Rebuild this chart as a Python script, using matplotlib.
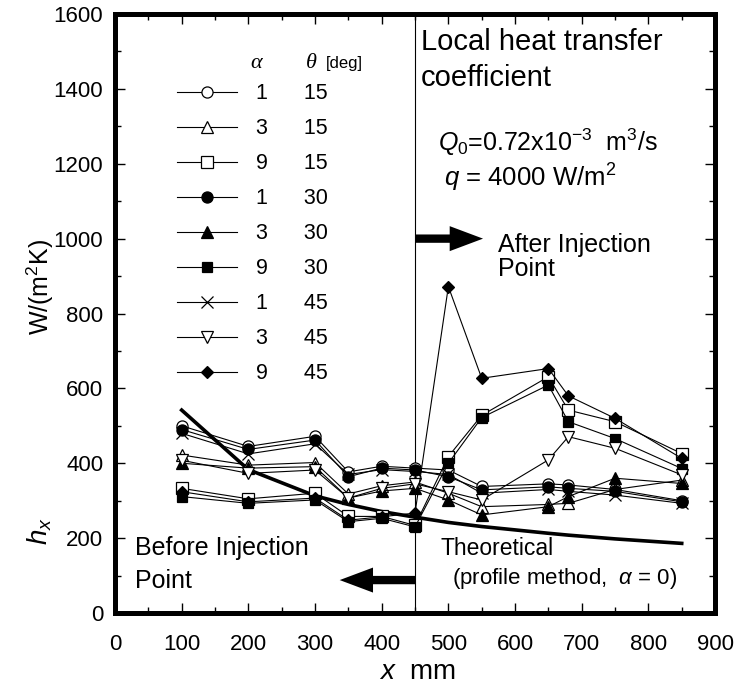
import matplotlib
matplotlib.use('Agg')
import matplotlib.pyplot as plt
from matplotlib.ticker import MultipleLocator

plt.rcParams['font.family'] = ['Liberation Sans', 'DejaVu Sans']
plt.rcParams['mathtext.fontset'] = 'custom'
plt.rcParams['mathtext.rm'] = 'Liberation Sans'
plt.rcParams['mathtext.it'] = 'Liberation Sans:italic'

# positions along the channel (mm)
x_pos = [100, 200, 300, 350, 400, 450, 500, 550, 650, 680, 750, 850]

# local heat transfer coefficient h_x, W/(m2K)
h_a1_t15 = [500, 445, 472, 377, 392, 387, 382, 338, 345, 342, 330, 300]
h_a3_t15 = [422, 395, 402, 318, 340, 350, 320, 284, 290, 293, 330, 355]
h_a9_t15 = [333, 305, 320, 258, 258, 234, 418, 528, 631, 542, 511, 426]
h_a1_t30 = [490, 437, 462, 364, 387, 382, 364, 329, 337, 333, 325, 297]
h_a3_t30 = [400, 387, 391, 307, 326, 333, 302, 262, 284, 311, 360, 346]
h_a9_t30 = [311, 293, 302, 244, 253, 230, 400, 522, 609, 511, 466, 386]
h_a1_t45 = [480, 425, 452, 370, 383, 378, 370, 320, 330, 325, 315, 293]
h_a3_t45 = [408, 373, 382, 307, 333, 345, 324, 302, 409, 471, 440, 369]
h_a9_t45 = [324, 297, 307, 248, 257, 267, 872, 627, 653, 580, 520, 413]

# theoretical curve (profile method, alpha = 0)
theo_x = [100, 200, 300, 350, 400, 450, 500, 550, 650, 680, 750, 850]
theo_h = [542, 383, 313, 290, 271, 256, 242, 231, 213, 208, 198, 186]

alphas = [1, 3, 9, 1, 3, 9, 1, 3, 9]
thetas = [15, 15, 15, 30, 30, 30, 45, 45, 45]

fig = plt.figure(figsize=(7.39, 6.97), dpi=100)
ax = fig.add_axes([0.1556, 0.1205, 0.812, 0.8594])

series = [h_a1_t15, h_a3_t15, h_a9_t15, h_a1_t30, h_a3_t30, h_a9_t30,
          h_a1_t45, h_a3_t45, h_a9_t45]
markers = ['o', '^', 's', 'o', '^', 's', 'x', 'v', 'D']
faces = ['white', 'white', 'white', 'black', 'black', 'black', 'none', 'white', 'black']
sizes = [8, 8, 8, 8, 8, 7.5, 8, 8, 6.5]

for h, m, fc, ms, a, t in zip(series, markers, faces, sizes, alphas, thetas):
    ax.plot(x_pos, h, color='black', lw=0.8, marker=m, ms=ms, mfc=fc,
            mec='black', mew=0.9, label=f'{a}      {t}')

ax.plot(theo_x, theo_h, color='black', lw=2.6, zorder=1)

ax.axvline(450, color='black', lw=0.8, zorder=0)

ax.set_xlim(0, 900)
ax.set_ylim(0, 1600)
ax.xaxis.set_major_locator(MultipleLocator(100))
ax.xaxis.set_minor_locator(MultipleLocator(50))
ax.yaxis.set_major_locator(MultipleLocator(200))
ax.yaxis.set_minor_locator(MultipleLocator(100))
ax.tick_params(which='both', direction='in', top=True, right=True,
               labelsize=16, width=1)
ax.tick_params(which='major', length=7)
ax.tick_params(which='minor', length=4.5)
ax.tick_params(axis='x', which='major', pad=15)
ax.tick_params(axis='y', which='major', pad=8.5)
for s in ax.spines.values():
    s.set_linewidth(3.6)

leg = ax.legend(loc='upper left', bbox_to_anchor=(0.103, 0.884), frameon=False,
                fontsize=15.5, handlelength=2.8, handletextpad=0.9,
                labelspacing=0.65, borderpad=0, borderaxespad=0)

ax.text(211, 1468, 'α', fontsize=16, family='Liberation Serif', style='italic',
        ha='center', va='center')
ax.text(294, 1468, 'θ', fontsize=16, family='Liberation Serif', style='italic',
        ha='center', va='center')
ax.text(316, 1468, '[deg]', fontsize=12, ha='left', va='center')

ax.text(459, 1526, 'Local heat transfer', fontsize=21, ha='left', va='center')
ax.text(459, 1428, 'coefficient', fontsize=21, ha='left', va='center')
ax.text(484, 1258, r'$Q_0$=0.72x10$^{-3}$  m$^3$/s', fontsize=18, ha='left', va='center')
ax.text(494, 1161, r'$q$ = 4000 W/m$^2$', fontsize=18.5, ha='left', va='center')

ax.text(574, 983, 'After Injection', fontsize=18, ha='left', va='center')
ax.text(574, 919, 'Point', fontsize=18, ha='left', va='center')
ax.text(30, 174, 'Before Injection', fontsize=18, ha='left', va='center')
ax.text(30, 85, 'Point', fontsize=18, ha='left', va='center')
ax.text(488, 173, 'Theoretical', fontsize=16.5, ha='left', va='center')
ax.text(506, 93, r'(profile method,  $\alpha$ = 0)', fontsize=16, ha='left', va='center')

arrow = dict(arrowstyle='simple,head_length=24,head_width=18,tail_width=6',
             mutation_scale=1, fc='black', ec='none', lw=0,
             shrinkA=0, shrinkB=0)
ax.annotate('', xy=(552, 1000), xytext=(450, 1000), arrowprops=arrow)
ax.annotate('', xy=(337, 88), xytext=(450, 88), arrowprops=arrow)

fig.text(0.054, 0.588, 'W/(m$^2$K)', rotation=90, fontsize=18,
         ha='center', va='center')
fig.text(0.054, 0.238, r'$h_x$', rotation=90, fontsize=20,
         ha='center', va='center')
fig.text(0.565, 0.036, r'$x$  mm', fontsize=20, ha='center', va='center')

fig.savefig('out.png', dpi=100)
